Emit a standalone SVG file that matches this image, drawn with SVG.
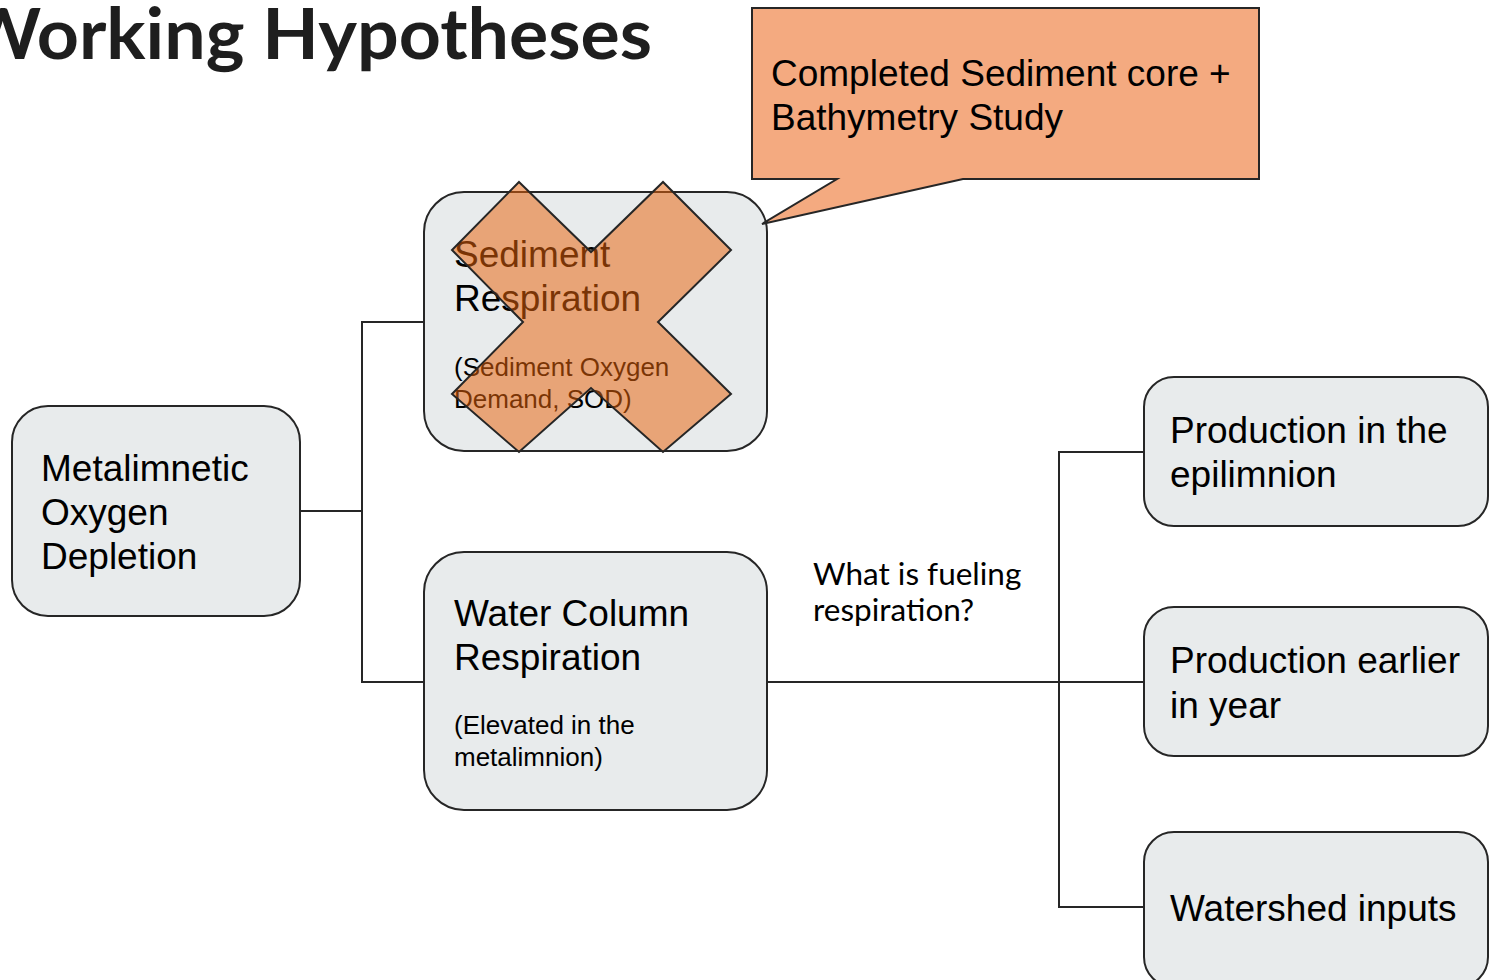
<svg xmlns="http://www.w3.org/2000/svg" width="1489" height="980" viewBox="0 0 1489 980">
<style>
.box{fill:#e8ebec;stroke:#262626;stroke-width:2}
.t{font-family:"Liberation Sans",Arial,sans-serif;fill:#000}
.big{font-size:37px}
.small{font-size:26px}
.conn{fill:none;stroke:#262626;stroke-width:2}
</style>
<rect width="1489" height="980" fill="#fff"/>
<g id="title"><text x="-36" y="59" textLength="688" lengthAdjust="spacingAndGlyphs" font-family="Lato,'Open Sans',sans-serif" font-weight="700" font-size="70" fill="#1e1e1e">Working Hypotheses</text></g>
<g id="connectors">
<polyline class="conn" points="300,511 362,511"/>
<polyline class="conn" points="424,322 362,322 362,682 424,682"/>
<polyline class="conn" points="767,682 1144,682"/>
<polyline class="conn" points="1144,452 1059,452 1059,907 1144,907"/>
</g>
<g id="n-metalimnetic">
<rect class="box" x="12" y="406" width="288" height="210" rx="36"/>
<text class="t big" x="41" y="481">Metalimnetic</text>
<text class="t big" x="41" y="525">Oxygen</text>
<text class="t big" x="41" y="569">Depletion</text>
</g>
<g id="n-sediment">
<rect class="box" x="424" y="192" width="343" height="259" rx="40"/>
<text class="t big" x="454" y="267">Sediment</text>
<text class="t big" x="454" y="311">Respiration</text>
<text class="t small" x="454" y="376">(Sediment Oxygen</text>
<text class="t small" x="454" y="408">Demand, SOD)</text>
</g>
<g id="n-cross">
<polygon points="519,182 591,252 663,182 731,250 658,322 731,394 663,452 591,388 519,452 452,394 523,322 452,250" fill="#e8640c" fill-opacity="0.52" stroke="#262626" stroke-width="2"/>
</g>
<g id="n-callout">
<path d="M752,8 H1259 V179 H963 L762,224 L837,179 H752 Z" fill="#f4aa80" stroke="#262626" stroke-width="2"/>
<text class="t big" x="771" y="86">Completed Sediment core +</text>
<text class="t big" x="771" y="130">Bathymetry Study</text>
</g>
<g id="n-water">
<rect class="box" x="424" y="552" width="343" height="258" rx="40"/>
<text class="t big" x="454" y="626">Water Column</text>
<text class="t big" x="454" y="670">Respiration</text>
<text class="t small" x="454" y="734">(Elevated in the</text>
<text class="t small" x="454" y="766">metalimnion)</text>
</g>
<g id="label-fueling">
<text x="813" y="585" font-family="Lato,sans-serif" font-size="31.5" fill="#000">What is fueling</text>
<text x="813" y="621" font-family="Lato,sans-serif" font-size="31.5" fill="#000">respiration?</text>
</g>
<g id="n-epi">
<rect class="box" x="1144" y="377" width="344" height="149" rx="30"/>
<text class="t big" x="1170" y="443">Production in the</text>
<text class="t big" x="1170" y="487">epilimnion</text>
</g>
<g id="n-earlier">
<rect class="box" x="1144" y="607" width="344" height="149" rx="30"/>
<text class="t big" x="1170" y="673">Production earlier</text>
<text class="t big" x="1170" y="718">in year</text>
</g>
<g id="n-watershed">
<rect class="box" x="1144" y="832" width="344" height="155" rx="30"/>
<text class="t big" x="1170" y="921">Watershed inputs</text>
</g>
</svg>
